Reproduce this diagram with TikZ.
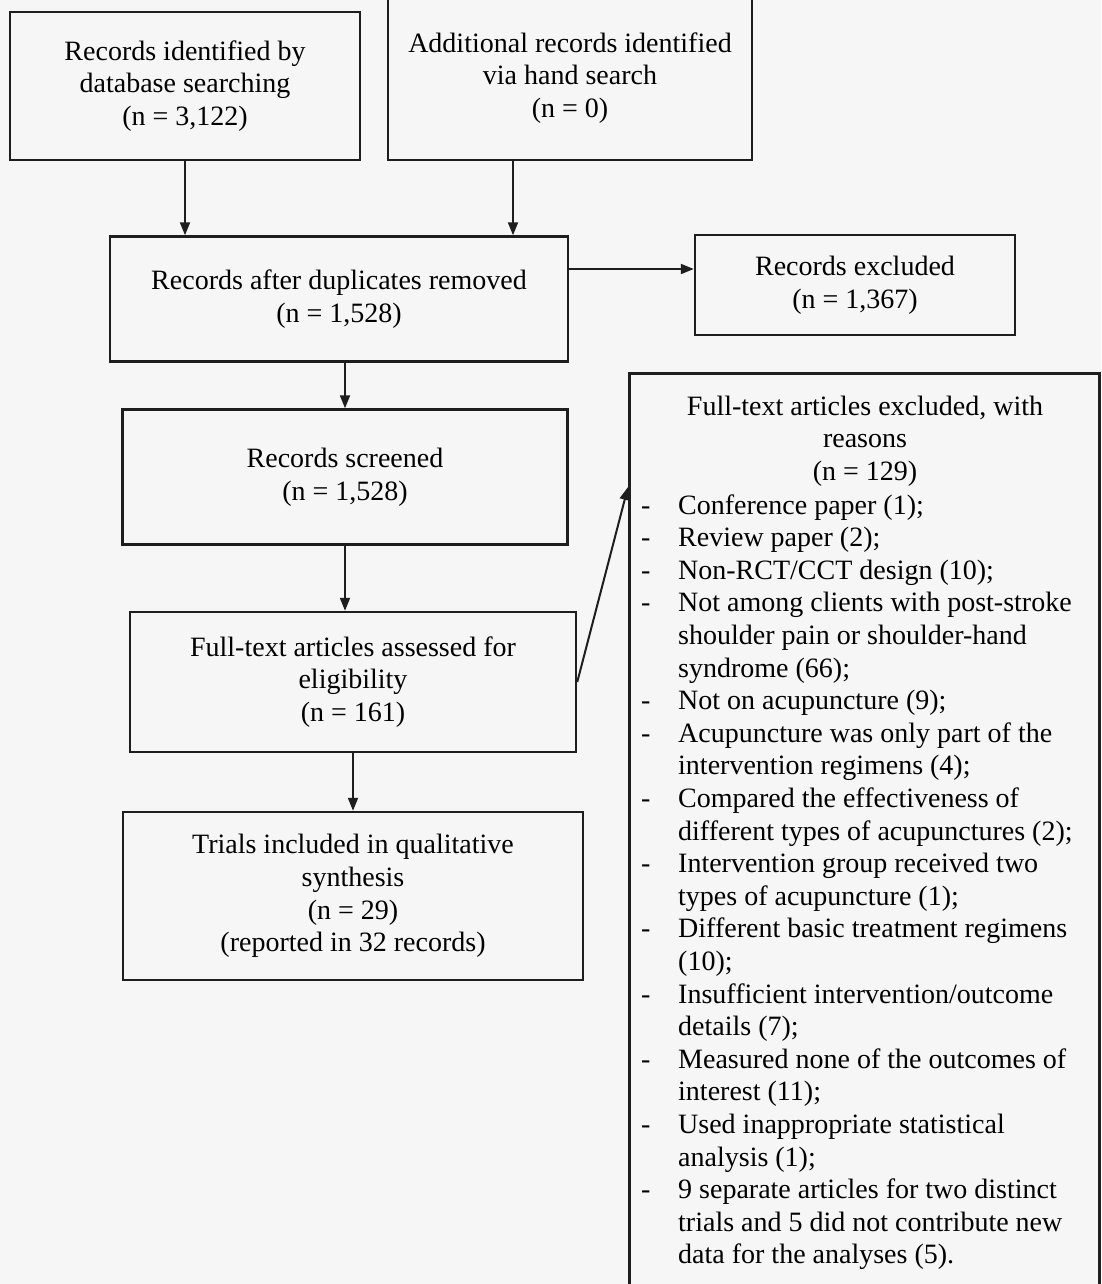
\documentclass[tikz,border=0pt]{standalone}
\usepackage{fontspec}
\setmainfont{Liberation Serif}
\usetikzlibrary{arrows.meta}
\definecolor{linec}{HTML}{1E1E1E}
\definecolor{bgc}{HTML}{F6F6F6}

\begin{document}
\begin{tikzpicture}[x=1pt, y=-1pt, font=\fontsize{28}{32.6}\selectfont,
    box/.style={draw=linec, line width=2.5pt, fill=bgc, align=center, inner sep=0pt},
    arrow/.style={-{Triangle[length=13pt,width=10pt]}, line width=2pt, color=linec}]
    \useasboundingbox (0,0) rectangle (1101,1284);
    \fill[bgc] (0,0) rectangle (1101,1284);
    \clip (0,0) rectangle (1101,1284);
    \node[box, minimum width=350, minimum height=148] (dbase) at (185,86) {Records identified by\\database searching\\(n = 3,122)};
    \node[box, minimum width=364, minimum height=164] (hand) at (570,78) {Additional records identified\\via hand search\\(n = 0)};
    \node[box, minimum width=458, minimum height=125] (dedup) at (339,299) {Records after duplicates removed\\(n = 1,528)};
    \node[box, minimum width=320, minimum height=100] (excluded) at (855,285) {Records excluded\\(n = 1,367)};
    \node[box, minimum width=445, minimum height=135] (screened) at (345,477) {Records screened\\(n = 1,528)};
    \node[box, minimum width=446, minimum height=140] (full) at (353,682) {Full-text articles assessed for\\eligibility\\(n = 161)};
    \node[box, minimum width=460, minimum height=168] (trials) at (353,896) {Trials included in qualitative\\synthesis\\(n = 29)\\(reported in 32 records)};
    \node[box, anchor=north west, minimum width=470, minimum height=950] (excl) at (628,372) {};
    \node[align=center] (exclhead) at (865,441) {Full-text articles excluded, with\\reasons\\(n = 129)};
    \node[anchor=base west, inner sep=0pt] (reasons) at (641,514) {%
      \begin{tabular}[t]{@{}p{37pt}@{}l@{}}
      - & Conference paper (1);\\
      - & Review paper (2);\\
      - & Non-RCT/CCT design (10);\\
      - & Not among clients with post-stroke\\
        & shoulder pain or shoulder-hand\\
        & syndrome (66);\\
      - & Not on acupuncture (9);\\
      - & Acupuncture was only part of the\\
        & intervention regimens (4);\\
      - & Compared the effectiveness of\\
        & different types of acupunctures (2);\\
      - & Intervention group received two\\
        & types of acupuncture (1);\\
      - & Different basic treatment regimens\\
        & (10);\\
      - & Insufficient intervention/outcome\\
        & details (7);\\
      - & Measured none of the outcomes of\\
        & interest (11);\\
      - & Used inappropriate statistical\\
        & analysis (1);\\
      - & 9 separate articles for two distinct\\
        & trials and 5 did not contribute new\\
        & data for the analyses (5).
      \end{tabular}};
    \coordinate (exclin) at (628,487);
    \path[arrow]
    (dbase.south) edge (dbase.south |- dedup.north)
    ([xshift=-57pt]hand.south) edge ([xshift=-57pt]hand.south |- dedup.north)
    ([yshift=30pt]dedup.east) edge ([yshift=30pt]dedup.east -| excluded.west)
    (screened.north |- dedup.south) edge (screened.north)
    (screened.south) edge (screened.south |- full.north)
    (full.east) edge (exclin)
    (full.south) edge (full.south |- trials.north);
\end{tikzpicture}
\end{document}
